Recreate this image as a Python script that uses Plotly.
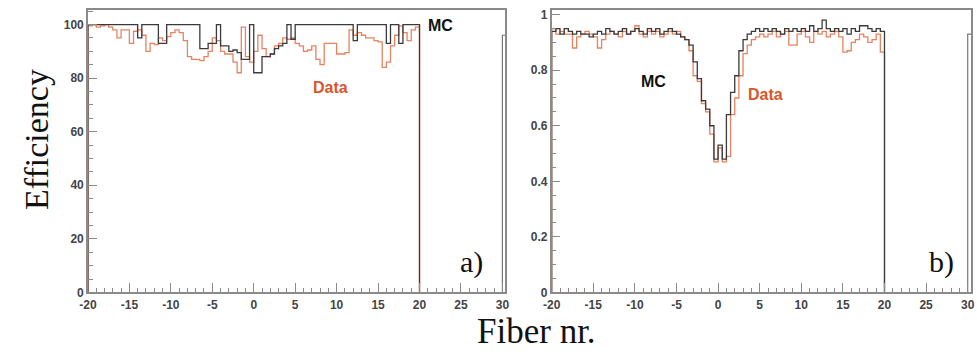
import plotly.graph_objects as go

# ---------------- data ----------------
bin_width = 0.5
first_edge = -20.0
x_ticks = [-20, -15, -10, -5, 0, 5, 10, 15, 20, 25, 30]

# panel a) efficiency in percent, 80 bins of 0.5 from -20 to 20
mc_a = [100, 100, 100, 100, 100, 100, 100, 100, 100, 100,
        100, 100, 95, 100, 100, 100, 100, 93, 93, 100,
        100, 100, 100, 100, 100, 100, 100, 91, 91, 93,
        93, 100, 92, 92, 90, 90.5, 89.5, 87, 87, 100,
        82, 82, 88, 88, 89, 91, 92, 93, 100, 94.5,
        100, 100, 100, 100, 100, 100, 100, 100, 100, 100,
        100, 100, 100, 100, 94, 100, 100, 100, 100, 100,
        100, 100, 93, 100, 100, 93, 100, 100, 100, 100]
data_a = [99.5, 100, 99, 99.5, 100, 99, 98, 95, 98, 98,
          93, 97.5, 98, 96, 90, 93, 92.5, 95, 94, 95.5,
          97, 98, 97, 94, 88, 87, 87, 86.5, 88, 90,
          95, 94, 90, 89, 89, 86, 82, 99, 88, 86,
          90, 96, 91, 88, 89, 92, 93, 95, 94.5, 95,
          93, 92, 90, 90.5, 92, 87, 85, 93, 93, 93,
          89, 89, 89.5, 98, 96, 97, 96, 95, 95, 94,
          93.5, 84, 86, 92, 96, 99.5, 97, 94, 98, 99]
overflow_a = 96

# panel b) efficiency as fraction
mc_b = [0.94, 0.95, 0.93, 0.95, 0.94, 0.93, 0.94, 0.93, 0.93, 0.92,
        0.93, 0.94, 0.93, 0.95, 0.94, 0.93, 0.94, 0.95, 0.93, 0.94,
        0.95, 0.94, 0.93, 0.95, 0.94, 0.95, 0.93, 0.94, 0.95, 0.94,
        0.93, 0.92, 0.91, 0.89, 0.83, 0.77, 0.69, 0.66, 0.60, 0.48,
        0.53, 0.48, 0.64, 0.72, 0.78, 0.87, 0.91, 0.93, 0.94, 0.95,
        0.94, 0.95, 0.94, 0.95, 0.94, 0.93, 0.95, 0.94, 0.95, 0.94,
        0.95, 0.94, 0.96, 0.94, 0.95, 0.98, 0.95, 0.94, 0.95, 0.94,
        0.95, 0.93, 0.95, 0.94, 0.96, 0.96, 0.95, 0.94, 0.95, 0.94]
data_b = [0.95, 0.93, 0.94, 0.93, 0.93, 0.88, 0.92, 0.93, 0.94, 0.93,
          0.92, 0.88, 0.91, 0.93, 0.94, 0.93, 0.92, 0.94, 0.93, 0.94,
          0.96, 0.93, 0.92, 0.94, 0.93, 0.94, 0.92, 0.93, 0.94, 0.93,
          0.94, 0.92, 0.91, 0.87, 0.78, 0.76, 0.68, 0.65, 0.57, 0.47,
          0.52, 0.47, 0.49, 0.64, 0.70, 0.78, 0.86, 0.89, 0.91, 0.92,
          0.93, 0.92, 0.93, 0.94, 0.92, 0.93, 0.94, 0.89, 0.89, 0.93,
          0.94, 0.92, 0.90, 0.94, 0.93, 0.94, 0.92, 0.93, 0.94, 0.92,
          0.865, 0.87, 0.90, 0.91, 0.93, 0.92, 0.90, 0.91, 0.93, 0.865]
overflow_b = 0.93

MC_COLOR = "#3a3a3a"
DATA_COLOR = "#e8825f"
AXIS_COLOR = "#8a8a8a"


def step_xy(vals):
    n = len(vals)
    edges = [first_edge + bin_width * k for k in range(n + 1)]
    xs = [edges[0]] + edges[:n] + [edges[n]]
    ys = [0] + list(vals) + [0]
    return xs, ys


fig = go.Figure()

for vals, color, xa, ya in [
    (data_a, DATA_COLOR, "x", "y"),
    (mc_a, MC_COLOR, "x", "y"),
    (data_b, DATA_COLOR, "x2", "y2"),
    (mc_b, MC_COLOR, "x2", "y2"),
]:
    xs, ys = step_xy(vals)
    fig.add_trace(go.Scatter(x=xs, y=ys, mode="lines", line_shape="hv",
                             line=dict(color=color, width=1.3),
                             xaxis=xa, yaxis=ya, showlegend=False,
                             hoverinfo="skip"))

# overflow entries sitting at the right edge of each frame
for ov, xa, ya in [(overflow_a, "x", "y"), (overflow_b, "x2", "y2")]:
    fig.add_trace(go.Scatter(x=[30, 30, 31], y=[0, ov, ov], mode="lines",
                             line=dict(color="#777", width=1.2),
                             xaxis=xa, yaxis=ya, showlegend=False,
                             hoverinfo="skip"))

W, H = 977, 354
tickfont = dict(family="Liberation Sans, Arial, sans-serif", size=12,
                color="#444", weight="bold")

common_x = dict(tickmode="array", tickvals=x_ticks,
                ticktext=[str(v) for v in x_ticks],
                ticks="inside", ticklen=10, tickwidth=1, tickcolor=AXIS_COLOR,
                minor=dict(ticks="inside", ticklen=5, dtick=1, tick0=-20,
                           tickcolor=AXIS_COLOR),
                showline=True, linecolor=AXIS_COLOR, linewidth=1.5, mirror=True,
                showgrid=False, zeroline=False, tickfont=tickfont, ticklabelstandoff=0)
common_y = dict(ticks="inside", ticklen=9, tickwidth=1, tickcolor=AXIS_COLOR,
                showline=True, linecolor=AXIS_COLOR, linewidth=1.5, mirror=True,
                showgrid=False, zeroline=False, tickfont=tickfont)

ydom = [1 - 298 / H, 1 - 8 / H]

fig.update_layout(
    width=W, height=H, autosize=False,
    margin=dict(l=0, r=0, t=0, b=0),
    paper_bgcolor="white", plot_bgcolor="white",
    xaxis=dict(domain=[80 / W, 503 / W], range=[-20, 30.35], anchor="y", **common_x),
    yaxis=dict(domain=ydom, range=[0, 105.5], anchor="x",
               tickvals=[0, 20, 40, 60, 80, 100],
               minor=dict(ticks="inside", ticklen=5, dtick=5, tick0=0,
                          tickcolor=AXIS_COLOR),
               **common_y),
    xaxis2=dict(domain=[550 / W, 975 / W], range=[-20, 30.4], anchor="y2", **common_x),
    yaxis2=dict(domain=ydom, range=[0, 1.0175], anchor="x2",
                tickvals=[0, 0.2, 0.4, 0.6, 0.8, 1],
                ticktext=["0", "0.2", "0.4", "0.6", "0.8", "1"],
                minor=dict(ticks="inside", ticklen=5, dtick=0.05, tick0=0,
                           tickcolor=AXIS_COLOR),
                **common_y),
)

lab_font = dict(family="Liberation Sans, Arial, sans-serif", size=16, weight="bold")
serif = "Liberation Serif, Times New Roman, serif"


def px(xp):
    return xp / W


def py(yp):
    return 1 - yp / H


annotations = [
    dict(text="MC", x=px(437), y=py(24), font=dict(color="#111", **lab_font)),
    dict(text="Data", x=px(326), y=py(88), font=dict(color="#d9552d", **lab_font)),
    dict(text="MC", x=px(653), y=py(82), font=dict(color="#111", **lab_font)),
    dict(text="Data", x=px(767), y=py(95), font=dict(color="#d9552d", **lab_font)),
    dict(text="a)", x=px(469), y=py(267), font=dict(family=serif, size=30, color="#111")),
    dict(text="b)", x=px(945), y=py(267), font=dict(family=serif, size=30, color="#111")),
    dict(text="Efficiency", x=px(28), y=py(141), textangle=-90,
         font=dict(family=serif, size=34, color="#111")),
    dict(text="Fiber nr.", x=px(535), y=py(338),
         font=dict(family=serif, size=35, color="#111")),
]
for a in annotations:
    a.update(xref="paper", yref="paper", showarrow=False,
             xanchor="center", yanchor="middle")
fig.update_layout(annotations=annotations)

fig.write_html("out.html")
